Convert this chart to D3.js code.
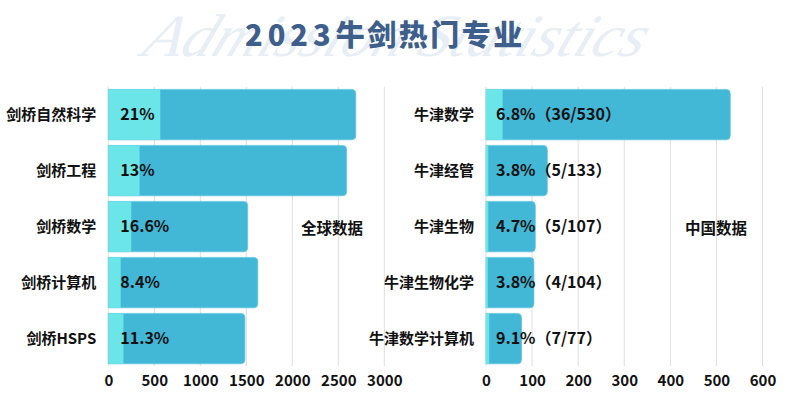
<!DOCTYPE html>
<html><head><meta charset="utf-8">
<script src="https://cdn.jsdelivr.net/npm/d3@7"></script>
<style>body{margin:0;background:#fff}svg{display:block}</style>
</head><body>
<svg id="c" width="800" height="413"></svg>
<script>
const leftCats = ["剑桥自然科学","剑桥工程","剑桥数学","剑桥计算机","剑桥HSPS"];
const leftTotal = [2690, 2590, 1515, 1625, 1485];
const leftAdmit = [565, 340, 250, 135, 165];
const leftLabels = ["21%","13%","16.6%","8.4%","11.3%"];
const leftTicks = [0,500,1000,1500,2000,2500,3000];

const rightCats = ["牛津数学","牛津经管","牛津生物","牛津生物化学","牛津数学计算机"];
const rightTotal = [530, 133, 107, 104, 77];
const rightAdmit = [36, 5, 5, 4, 7];
const rightLabels = ["6.8%（36/530）","3.8%（5/133）","4.7%（5/107）","3.8%（4/104）","9.1%（7/77）"];
const rightTicks = [0,100,200,300,400,500,600];

const svg = d3.select("#c");
const FONT = "'Noto Sans CJK SC','Noto Sans',sans-serif";

// watermark
svg.append("text").attr("transform","translate(140,56) skewX(-22)")
  .attr("font-family","'Liberation Serif','DejaVu Serif',serif").attr("font-style","italic")
  .attr("font-size",60).attr("fill","#e8eef5")
  .attr("textLength",500).attr("lengthAdjust","spacingAndGlyphs")
  .text("Admission Statistics");

// title
const t = svg.append("text").attr("x",245).attr("y",46)
  .attr("font-family",FONT).attr("font-weight",900).attr("font-size",29)
  .attr("fill","#3e5f8b");
t.append("tspan").attr("letter-spacing",5).text("2023");
t.append("tspan").attr("letter-spacing",2.5).text("牛剑热门专业");

const y = d3.scaleBand().domain(d3.range(5)).range([86.6,366.6]).paddingInner(0.1).paddingOuter(0.05);

function barPath(x0,x1,y0,h,r){
  r = Math.min(r, x1-x0);
  return `M${x0},${y0}H${x1-r}Q${x1},${y0} ${x1},${y0+r}V${y0+h-r}Q${x1},${y0+h} ${x1-r},${y0+h}H${x0}Z`;
}

function panel(cats,total,admit,labels,ticks,range,labelX,title,titleX){
  const x = d3.scaleLinear().domain([ticks[0],ticks[ticks.length-1]]).range(range);
  const g = svg.append("g");
  g.selectAll(".grid").data(ticks).join("line")
    .attr("x1",d=>x(d)).attr("x2",d=>x(d)).attr("y1",87).attr("y2",366)
    .attr("stroke","#dedede").attr("stroke-width",1);
  g.selectAll(".dark").data(d3.range(5)).join("path")
    .attr("d",i=>barPath(x(0),x(total[i]),y(i),y.bandwidth(),4))
    .attr("fill","#42b7d6").attr("stroke","#62c8e0").attr("stroke-width",0.8);
  g.selectAll(".light").data(d3.range(5)).join("rect")
    .attr("x",x(0)).attr("y",i=>y(i)).attr("width",i=>x(admit[i])-x(0)).attr("height",y.bandwidth())
    .attr("fill","#6be5e8");
  g.selectAll(".val").data(d3.range(5)).join("text")
    .attr("x",x(0)+labelX).attr("y",i=>y(i)+y.bandwidth()/2)
    .attr("dy","0.36em").attr("font-family",FONT).attr("font-weight",700).attr("font-size",16)
    .attr("fill","#111").text(i=>labels[i]);
  g.selectAll(".cat").data(d3.range(5)).join("text")
    .attr("x",x(0)-12).attr("y",i=>y(i)+y.bandwidth()/2).attr("dy","0.36em")
    .attr("text-anchor","end").attr("font-family",FONT).attr("font-weight",700).attr("font-size",15)
    .attr("fill","#111").text(i=>cats[i]);
  const ax = g.append("g").attr("transform","translate(0,366)")
    .call(d3.axisBottom(x).tickValues(ticks).tickFormat(d3.format("d")).tickSize(0).tickPadding(9));
  ax.select(".domain").remove();
  ax.selectAll("text").attr("font-family",FONT).attr("font-weight",700).attr("font-size",15).attr("fill","#111");
  g.append("text").attr("x",titleX).attr("y",y(2)+y.bandwidth()/2+2).attr("dy","0.36em")
    .attr("font-family",FONT).attr("font-weight",700).attr("font-size",15.5).attr("fill","#111").text(title);
}

panel(leftCats,leftTotal,leftAdmit,leftLabels,leftTicks,[108.3,384.3],12,"全球数据",301);
panel(rightCats,rightTotal,rightAdmit,rightLabels,rightTicks,[486,762.5],10,"中国数据",685);
</script>
</body></html>
